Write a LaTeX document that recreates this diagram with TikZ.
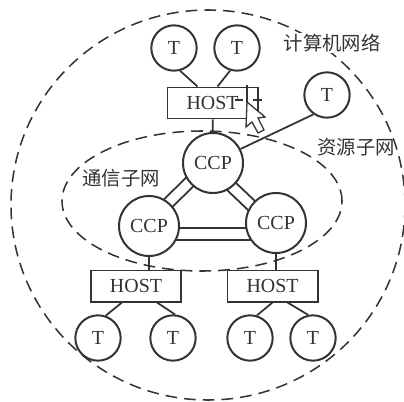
\documentclass[tikz,border=0pt]{standalone}
\usepackage{fontspec}
\setmainfont{Liberation Serif}
\newfontfamily\cjk{Noto Sans CJK SC}
\usetikzlibrary{positioning, shapes.geometric, backgrounds}
\definecolor{cline}{HTML}{333333}
\tikzset{
  every picture/.style={font=\fontsize{17pt}{18pt}\selectfont, line width=1.7pt, draw=cline, text=cline},
  term/.style={circle, draw=cline, fill=white, minimum size=1.36cm, inner sep=0pt},
  ccp/.style={circle, draw=cline, fill=white, minimum size=1.8cm, inner sep=0pt},
  host/.style={rectangle, draw=cline, fill=white, minimum width=2.7cm, minimum height=0.93cm, inner sep=0pt},
  link/.style={draw=cline, line width=1.5pt},
  ring/.style={ellipse, draw=cline, dash pattern=on 10pt off 6pt, line width=1.3pt, inner sep=0pt},
  label/.style={font=\cjk\fontsize{16.5pt}{18pt}\selectfont, text=cline, inner sep=1pt},
}
\begin{document}
\begin{tikzpicture}[x=0.03cm, y=-0.03cm]
  \useasboundingbox (0,0) rectangle (404,401);
  % the three nodes of the subnet
  \node[ccp] (ccpt) at (213,163) {CCP};
  \node[ccp] (ccpl) at (149,226) {CCP};
  \node[ccp] (ccpr) at (276,223) {CCP};
  % hosts
  \node[host] (hostt) at (212.5,103) {HOST};
  \node[host] (hostl) at (136,286) {HOST};
  \node[host] (hostr) at (272.5,286) {HOST};
  % terminals
  \node[term] (t1) at (174,48) {T};
  \node[term] (t2) at (237,48) {T};
  \node[term] (t3) at (327,95) {T};
  \node[term] (t4) at (98,338) {T};
  \node[term] (t5) at (173,338) {T};
  \node[term] (t6) at (250,338) {T};
  \node[term] (t7) at (313,338) {T};
  \begin{scope}[on background layer]
    \draw[link] ([shift={(-6,-6)}]ccpt.center) -- ([shift={(-6,-6)}]ccpl.center);
    \draw[link] ([shift={(2,2)}]ccpt.center) -- ([shift={(2,2)}]ccpl.center);
    \draw[link] ([shift={(1,-1)}]ccpt.center) -- ([shift={(1,-1)}]ccpr.center);
    \draw[link] ([shift={(-7,7)}]ccpt.center) -- ([shift={(-7,7)}]ccpr.center);
    \draw[link] ([shift={(0,2)}]ccpl.center) -- ([shift={(0,5)}]ccpr.center);
    \draw[link] ([shift={(0,14)}]ccpl.center) -- ([shift={(0,17)}]ccpr.center);
  \end{scope}
  \draw[link] (t1.-75) -- ([xshift=-0.45cm]hostt.north);
  \draw[link] (t2.-107) -- ([xshift=0.15cm]hostt.north);
  \draw[link] (hostt) -- (ccpt);
  \draw[link] (ccpt.27) -- (t3.235);
  \draw[link] (ccpl) -- (ccpl |- hostl.north);
  \draw[link] (ccpr) -- (ccpr |- hostr.north);
  \draw[link] ([xshift=-0.42cm]hostl.south) -- (t4.71);
  \draw[link] ([xshift=0.63cm]hostl.south) -- (t5.85);
  \draw[link] (hostr.south) -- (t6.73);
  \draw[link] ([xshift=0.45cm]hostr.south) -- (t7.102);
  % dashed outlines go over the circles
  \node[ring, minimum width=11.82cm, minimum height=11.7cm] (wan) at (208,205) {};
  \node[ring, minimum width=8.4cm, minimum height=4.2cm] (subnet) at (202,201) {};
  \node[label, fill=white] (lwan) at (332,43) {计算机网络};
  \node[label] (lres) at (356,147) {资源子网};
  \node[label] (lsub) at (121,178) {通信子网};
  % the mouse pointer left in the scan
  \draw[link, line width=1pt] (247,85) -- (247,103);
  \draw[link, line width=1pt] (235,100) -- (243,100);
  \draw[link, line width=1pt] (253,100) -- (262,100);
  \draw[fill=white, line width=1.1pt, draw=cline] (247,102) -- (246,127) -- (252,122) -- (258,133) -- (264,130) -- (258,118) -- (265,117) -- cycle;
\end{tikzpicture}
\end{document}
